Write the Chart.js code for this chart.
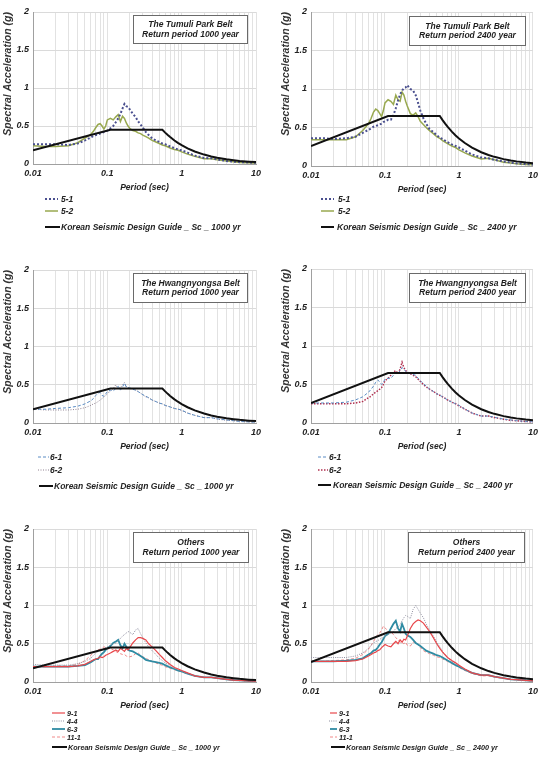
<!DOCTYPE html>
<html><head><meta charset="utf-8">
<script src="https://cdn.jsdelivr.net/npm/chart.js@4.4.0/dist/chart.umd.min.js"></script>
<style>
body{margin:0;background:#fff;width:542px;height:767px;position:relative;overflow:hidden;}
.panel{position:absolute;}
.leg{position:absolute;display:flex;align-items:center;font-family:"Liberation Sans",Arial,sans-serif;font-style:italic;font-weight:bold;color:#222;white-space:nowrap;height:12px;}
.leg svg{flex:none;}
</style></head><body>
<script>
// ---------- DATA ----------
const periods = [0.01,0.015,0.02,0.03,0.04, 0.05,0.06,0.065,0.07,0.075, 0.08,0.085,0.09,0.095,0.1, 0.11,0.12,0.13,0.14,0.15, 0.16,0.17,0.18,0.19,0.2, 0.22,0.24,0.26,0.28,0.3, 0.33,0.36,0.4,0.45,0.5, 0.55,0.6,0.7,0.8,0.9, 1,1.2,1.5,2,2.5, 3,4,5,6,8, 10];

const designPeriods = [0.01,0.11,0.55,0.6,0.65,0.7,0.8,0.9,1,1.2,1.5,2,2.5,3,4,5,6,8,10];
const design1000 = [0.18,0.45,0.45,0.413,0.381,0.354,0.309,0.275,0.248,0.206,0.165,0.124,0.099,0.083,0.062,0.050,0.041,0.031,0.025];
const design2400 = [0.26,0.65,0.65,0.596,0.55,0.511,0.447,0.397,0.358,0.298,0.238,0.179,0.143,0.119,0.089,0.072,0.060,0.045,0.036];

const tumuli51_1000 = [0.26,0.26,0.26,0.25,0.27, 0.31,0.35,0.37,0.38,0.39, 0.40,0.41,0.42,0.43,0.44, 0.47,0.50,0.55,0.60,0.66, 0.73,0.79,0.76,0.75,0.72, 0.66,0.62,0.56,0.52,0.48, 0.42,0.38,0.34,0.31,0.29, 0.27,0.26,0.23,0.21,0.19, 0.18,0.15,0.11,0.08,0.075, 0.06,0.04,0.03,0.025,0.02, 0.015];
const tumuli52_1000 = [0.24,0.23,0.23,0.24,0.28, 0.34,0.39,0.43,0.48,0.52, 0.53,0.50,0.46,0.50,0.58, 0.60,0.58,0.62,0.65,0.56, 0.63,0.60,0.54,0.50,0.47, 0.44,0.43,0.41,0.40,0.38, 0.36,0.34,0.31,0.29,0.27, 0.25,0.24,0.21,0.19,0.18, 0.16,0.13,0.10,0.07,0.07, 0.055,0.04,0.03,0.02,0.015, 0.01];
const tumuli51_2400 = [0.36,0.36,0.35,0.36,0.38, 0.43,0.47,0.49,0.51,0.52, 0.53,0.54,0.55,0.57,0.58, 0.60,0.60,0.66,0.75,0.85, 0.93,0.98,1.01,1.02,1.05, 1.00,0.98,0.92,0.82,0.72, 0.62,0.55,0.48,0.44,0.40, 0.37,0.35,0.31,0.28,0.26, 0.24,0.20,0.15,0.11,0.10, 0.08,0.06,0.045,0.035,0.025, 0.02];
const tumuli52_2400 = [0.34,0.34,0.34,0.34,0.38, 0.46,0.55,0.62,0.70,0.74, 0.72,0.68,0.64,0.72,0.82, 0.86,0.84,0.80,0.92,0.86, 0.84,0.96,0.92,0.84,0.78, 0.68,0.66,0.69,0.64,0.58, 0.54,0.50,0.46,0.42,0.38, 0.36,0.33,0.29,0.26,0.24, 0.21,0.17,0.13,0.09,0.10, 0.08,0.05,0.04,0.03,0.02, 0.015];

const hwang61_1000 = [0.18,0.18,0.19,0.20,0.22, 0.25,0.29,0.32,0.36,0.39, 0.40,0.36,0.35,0.38,0.41, 0.43,0.42,0.45,0.48,0.43, 0.47,0.52,0.47,0.46,0.46, 0.44,0.43,0.41,0.39,0.37, 0.35,0.33,0.30,0.28,0.26, 0.25,0.23,0.21,0.19,0.18, 0.17,0.13,0.10,0.07,0.07, 0.055,0.04,0.03,0.02,0.015, 0.01];
const hwang62_1000 = [0.18,0.17,0.17,0.17,0.18, 0.20,0.23,0.25,0.26,0.28, 0.30,0.32,0.34,0.36,0.38, 0.42,0.45,0.50,0.44,0.46, 0.50,0.53,0.48,0.46,0.45, 0.44,0.43,0.41,0.39,0.37, 0.34,0.33,0.30,0.28,0.26, 0.25,0.23,0.21,0.19,0.18, 0.16,0.13,0.10,0.07,0.07, 0.05,0.035,0.03,0.02,0.015, 0.01];
const hwang61_2400 = [0.26,0.26,0.26,0.27,0.30, 0.34,0.40,0.44,0.48,0.53, 0.56,0.53,0.50,0.53,0.57, 0.58,0.58,0.62,0.66,0.64, 0.68,0.72,0.70,0.67,0.66, 0.64,0.63,0.62,0.58,0.55, 0.51,0.48,0.44,0.41,0.38, 0.36,0.34,0.30,0.27,0.25, 0.23,0.18,0.13,0.09,0.09, 0.075,0.05,0.04,0.03,0.02, 0.015];
const hwang62_2400 = [0.25,0.25,0.25,0.25,0.26, 0.28,0.33,0.35,0.38,0.40, 0.42,0.44,0.46,0.50,0.55, 0.58,0.62,0.66,0.68,0.64, 0.70,0.79,0.72,0.68,0.66, 0.64,0.62,0.60,0.57,0.54, 0.50,0.47,0.44,0.41,0.38, 0.36,0.34,0.30,0.27,0.25, 0.22,0.18,0.13,0.09,0.09, 0.07,0.05,0.035,0.03,0.02, 0.015];

const others91_1000 = [0.20,0.20,0.20,0.20,0.21, 0.23,0.27,0.29,0.30,0.31, 0.33,0.32,0.33,0.35,0.36, 0.38,0.40,0.42,0.40,0.44, 0.42,0.40,0.44,0.42,0.45, 0.51,0.55,0.58,0.58,0.57, 0.55,0.50,0.46,0.41,0.36, 0.32,0.28,0.23,0.19,0.17, 0.15,0.12,0.08,0.06,0.06, 0.05,0.035,0.025,0.02,0.015, 0.01];
const others44_1000 = [0.23,0.22,0.22,0.22,0.24, 0.27,0.31,0.35,0.38,0.40, 0.42,0.43,0.44,0.45,0.46, 0.48,0.50,0.51,0.54,0.57, 0.60,0.62,0.64,0.66,0.65, 0.62,0.68,0.70,0.63,0.58, 0.51,0.46,0.41,0.36,0.31, 0.28,0.25,0.21,0.18,0.16, 0.14,0.11,0.08,0.06,0.06, 0.05,0.035,0.025,0.02,0.015, 0.01];
const others63_1000 = [0.20,0.20,0.20,0.20,0.21, 0.22,0.26,0.28,0.30,0.30, 0.34,0.37,0.39,0.42,0.44, 0.47,0.51,0.53,0.55,0.48, 0.44,0.50,0.46,0.42,0.41, 0.40,0.38,0.36,0.34,0.32, 0.29,0.28,0.27,0.26,0.25, 0.24,0.22,0.19,0.17,0.15, 0.14,0.11,0.08,0.06,0.06, 0.05,0.035,0.025,0.02,0.015, 0.01];
const others111_1000 = [0.20,0.20,0.21,0.21,0.23, 0.28,0.35,0.38,0.40,0.42, 0.43,0.44,0.46,0.45,0.43, 0.44,0.42,0.40,0.38,0.37, 0.36,0.36,0.34,0.33,0.33, 0.34,0.37,0.38,0.35,0.33, 0.31,0.29,0.27,0.25,0.23, 0.22,0.20,0.18,0.16,0.15, 0.13,0.11,0.08,0.06,0.06, 0.05,0.035,0.025,0.02,0.015, 0.01];

const others91_2400 = [0.27,0.27,0.27,0.27,0.28, 0.30,0.34,0.36,0.38,0.39, 0.41,0.42,0.45,0.47,0.49, 0.47,0.46,0.50,0.53,0.50, 0.55,0.52,0.56,0.55,0.60, 0.70,0.76,0.79,0.81,0.80, 0.77,0.72,0.66,0.58,0.50, 0.44,0.39,0.32,0.28,0.25, 0.22,0.17,0.12,0.09,0.09, 0.07,0.05,0.035,0.03,0.02, 0.015];
const others44_2400 = [0.32,0.32,0.32,0.32,0.34, 0.38,0.44,0.48,0.51,0.53, 0.54,0.56,0.57,0.58,0.60, 0.62,0.64,0.66,0.70,0.72, 0.75,0.80,0.84,0.87,0.86, 0.83,0.95,1.00,0.95,0.90, 0.84,0.76,0.68,0.60,0.52, 0.46,0.40,0.32,0.27,0.24, 0.21,0.16,0.12,0.09,0.09, 0.07,0.05,0.035,0.03,0.02, 0.015];
const others63_2400 = [0.27,0.27,0.27,0.28,0.29, 0.31,0.36,0.38,0.41,0.42, 0.45,0.49,0.52,0.56,0.60, 0.63,0.70,0.76,0.80,0.70, 0.66,0.76,0.70,0.63,0.61, 0.59,0.55,0.51,0.49,0.47, 0.44,0.41,0.39,0.37,0.35, 0.34,0.32,0.28,0.25,0.22, 0.20,0.16,0.12,0.09,0.09, 0.07,0.05,0.035,0.03,0.02, 0.015];
const others111_2400 = [0.27,0.27,0.28,0.29,0.31, 0.36,0.43,0.48,0.53,0.58, 0.62,0.64,0.68,0.73,0.71, 0.66,0.66,0.62,0.58,0.55, 0.52,0.52,0.50,0.52,0.48, 0.47,0.52,0.53,0.49,0.45, 0.41,0.39,0.37,0.35,0.33, 0.32,0.30,0.27,0.24,0.22, 0.19,0.15,0.11,0.08,0.08, 0.065,0.045,0.035,0.025,0.02, 0.015];

const xTickValues = [0.01,0.1,1,10];
const xTickLabels = ['0.01','0.1','1','10'];
const xDecades = [0.01,0.1,1];
const xMinorMultipliers = [1,2,3,4,5,6,7,8,9];
const yTickValues = [0,0.5,1,1.5,2];
const yTickLabels = ['0','0.5','1','1.5','2'];

// ---------- RENDERING ----------
const FONT = '"Liberation Sans", Arial, sans-serif';
const xGridValues = [];
xDecades.forEach(d => xMinorMultipliers.forEach(m => xGridValues.push(m*d)));
xGridValues.push(10);

function pts(xs, ys){ return xs.map((x,i)=>({x:x, y:ys[i]})); }
function xLabel(v){
  for (let i=0;i<xTickValues.length;i++) if (Math.abs(v-xTickValues[i])/xTickValues[i] < 1e-6) return xTickLabels[i];
  return '';
}
function yLabel(v){
  for (let i=0;i<yTickValues.length;i++) if (Math.abs(v-yTickValues[i]) < 1e-9) return yTickLabels[i];
  return '';
}

const STY = {
  s51:{color:'#4a4f8f', width:2, dash:[2,2]},
  s52:{color:'#98a84f', width:1.5, dash:[]},
  s61:{color:'#5b8cc4', width:1, dash:[3,2]},
  s62a:{color:'#8f8090', width:1, dash:[1,1.5]},
  s62b:{color:'#b03050', width:1.5, dash:[1.5,1.5]},
  s91:{color:'#e8474b', width:1.2, dash:[]},
  s44:{color:'#8f8fa0', width:1, dash:[1,1.2]},
  s63:{color:'#2f8ba3', width:1.8, dash:[]},
  s111:{color:'#f08a8a', width:1, dash:[3,2]},
  des:{color:'#111111', width:2, dash:[]}
};

function makePanel(c){
  const W = 271, H = c.cb + 30;
  const div = document.createElement('div');
  div.className = 'panel';
  div.style.left = c.left+'px'; div.style.top = c.top+'px';
  div.style.width = W+'px'; div.style.height = H+'px';
  const cv = document.createElement('canvas');
  cv.width = W; cv.height = H; cv.style.width = W+'px'; cv.style.height = H+'px';
  div.appendChild(cv);
  document.body.appendChild(div);

  const datasets = [{
    label: c.designLabel, data: pts(designPeriods, c.design),
    borderColor: STY.des.color, borderWidth: STY.des.width, borderDash: [], order: 0
  }];
  c.series.forEach((s,i) => datasets.push({
    label: s.label, data: pts(periods, s.values),
    borderColor: s.sty.color, borderWidth: s.sty.width, borderDash: s.sty.dash, order: i+1
  }));

  const box = c.box;
  const boxPlugin = {
    id: 'titleBox',
    afterDraw(chart){
      const ctx = chart.ctx, a = chart.chartArea;
      const x = Math.round(a.right - box.r - box.w), y = Math.round(a.top + box.t);
      ctx.save();
      ctx.fillStyle = '#fff'; ctx.fillRect(x, y, box.w, box.h);
      ctx.strokeStyle = '#6a6a6a'; ctx.lineWidth = 1;
      ctx.strokeRect(x+0.5, y+0.5, box.w-1, box.h-1);
      ctx.font = 'italic bold 8.5px ' + FONT;
      ctx.fillStyle = '#1e1e1e'; ctx.textAlign = 'center'; ctx.textBaseline = 'middle';
      const cx = x + box.w/2, cy = y + box.h/2;
      c.title.forEach((t,i) => ctx.fillText(t, cx, cy + (i - (c.title.length-1)/2) * 9.5));
      ctx.restore();
    }
  };

  new Chart(cv, {
    type: 'line',
    data: { datasets },
    options: {
      responsive: false, animation: false, events: [],
      layout: { padding: { left: 0, top: c.ct, right: W - c.cr, bottom: 0 } },
      elements: { point: { radius: 0 }, line: { tension: 0, borderCapStyle: 'butt' } },
      plugins: { legend: { display: false }, tooltip: { enabled: false } },
      scales: {
        x: {
          type: 'logarithmic', min: 0.01, max: 10,
          afterFit: s => { s.height = H - c.cb; },
          afterBuildTicks: s => { s.ticks = xGridValues.map(v => ({ value: v })); },
          ticks: { autoSkip: false, maxRotation: 0, minRotation: 0, padding: 4, color: '#222',
                   font: { family: FONT, size: 9, style: 'italic', weight: 'bold' },
                   callback: v => xLabel(v) },
          grid: { color: '#e2e2e2', lineWidth: 1, drawTicks: false },
          border: { color: '#a0a0a0', width: 1 },
          title: { display: true, text: 'Period (sec)', color: '#222',
                   font: { family: FONT, size: 8.5, style: 'italic', weight: 'bold' },
                   padding: { top: 0, bottom: 1 } }
        },
        y: {
          type: 'linear', min: 0, max: 2,
          afterFit: s => { s.width = c.cl; },
          ticks: { stepSize: 0.5, padding: 4, color: '#222',
                   font: { family: FONT, size: 9, style: 'italic', weight: 'bold' },
                   callback: v => yLabel(v) },
          grid: { color: '#dadada', lineWidth: 1, drawTicks: false },
          border: { color: '#a0a0a0', width: 1 },
          title: { display: true, text: 'Spectral Acceleration (g)', color: '#333', align: 'end',
                   font: { family: FONT, size: 10.5, style: 'italic', weight: 'bold' },
                   padding: { top: c.yTitlePad, bottom: 0 } }
        }
      }
    },
    plugins: [boxPlugin]
  });

  // legend (HTML)
  const items = c.series.map(s => ({ label: s.label, sty: s.sty })).concat([{ label: c.designLabel, sty: STY.des }]);
  items.forEach((it, i) => {
    const L = c.legend[i];
    const d = document.createElement('div');
    d.className = 'leg';
    d.style.left = (c.left + L.sx) + 'px';
    d.style.top = (c.top + L.y - 6) + 'px';
    d.style.fontSize = c.legendFont + 'px';
    const svgNS = 'http://www.w3.org/2000/svg';
    const svg = document.createElementNS(svgNS, 'svg');
    svg.setAttribute('width', L.sw); svg.setAttribute('height', 6);
    svg.style.marginRight = (L.tx - L.sx - L.sw) + 'px';
    const ln = document.createElementNS(svgNS, 'line');
    ln.setAttribute('x1', 0); ln.setAttribute('y1', 3); ln.setAttribute('x2', L.sw); ln.setAttribute('y2', 3);
    ln.setAttribute('stroke', it.sty.color); ln.setAttribute('stroke-width', it.sty.width);
    if (it.sty.dash.length) ln.setAttribute('stroke-dasharray', it.sty.dash.join(' '));
    svg.appendChild(ln);
    const sp = document.createElement('span');
    sp.textContent = it.label;
    d.appendChild(svg); d.appendChild(sp);
    document.body.appendChild(d);
  });
}

makePanel({
  left: 0, top: 0, cl: 33, cr: 256, ct: 12, cb: 164, yTitlePad: 1.7,
  box: { r: 8, t: 3, w: 115, h: 29 },
  title: ['The Tumuli Park Belt', 'Return period 1000 year'],
  series: [{ label: '5-1', values: tumuli51_1000, sty: STY.s51 }, { label: '5-2', values: tumuli52_1000, sty: STY.s52 }],
  design: design1000, designLabel: 'Korean Seismic Design Guide _ Sc _ 1000 yr',
  legendFont: 8.5,
  legend: [{ y: 199, sx: 45, sw: 13, tx: 61 }, { y: 211, sx: 45, sw: 13, tx: 61 }, { y: 227, sx: 45, sw: 15, tx: 61 }]
});
makePanel({
  left: 271, top: 0, cl: 40, cr: 264, ct: 12, cb: 166, yTitlePad: 8.7,
  box: { r: 7, t: 4, w: 117, h: 30 },
  title: ['The Tumuli Park Belt', 'Return period 2400 year'],
  series: [{ label: '5-1', values: tumuli51_2400, sty: STY.s51 }, { label: '5-2', values: tumuli52_2400, sty: STY.s52 }],
  design: design2400, designLabel: 'Korean Seismic Design Guide _ Sc _ 2400 yr',
  legendFont: 8.5,
  legend: [{ y: 199, sx: 50, sw: 13, tx: 67 }, { y: 211, sx: 50, sw: 13, tx: 67 }, { y: 227, sx: 50, sw: 13, tx: 66 }]
});
makePanel({
  left: 0, top: 250, cl: 33, cr: 256, ct: 20, cb: 173, yTitlePad: 1.7,
  box: { r: 8, t: 3, w: 115, h: 30 },
  title: ['The Hwangnyongsa Belt', 'Return period 1000 year'],
  series: [{ label: '6-1', values: hwang61_1000, sty: STY.s61 }, { label: '6-2', values: hwang62_1000, sty: STY.s62a }],
  design: design1000, designLabel: 'Korean Seismic Design Guide _ Sc _ 1000 yr',
  legendFont: 8.5,
  legend: [{ y: 207, sx: 38, sw: 11, tx: 50 }, { y: 220, sx: 38, sw: 11, tx: 50 }, { y: 236, sx: 39, sw: 14, tx: 54 }]
});
makePanel({
  left: 271, top: 250, cl: 40, cr: 264, ct: 19, cb: 173, yTitlePad: 8.7,
  box: { r: 7, t: 4, w: 117, h: 30 },
  title: ['The Hwangnyongsa Belt', 'Return period 2400 year'],
  series: [{ label: '6-1', values: hwang61_2400, sty: STY.s61 }, { label: '6-2', values: hwang62_2400, sty: STY.s62b }],
  design: design2400, designLabel: 'Korean Seismic Design Guide _ Sc _ 2400 yr',
  legendFont: 8.5,
  legend: [{ y: 207, sx: 47, sw: 10, tx: 58 }, { y: 220, sx: 47, sw: 10, tx: 58 }, { y: 235, sx: 47, sw: 13, tx: 62 }]
});
makePanel({
  left: 0, top: 500, cl: 33, cr: 256, ct: 29, cb: 182, yTitlePad: 1.7,
  box: { r: 7, t: 3, w: 116, h: 31 },
  title: ['Others', 'Return period 1000 year'],
  series: [{ label: '9-1', values: others91_1000, sty: STY.s91 }, { label: '4-4', values: others44_1000, sty: STY.s44 },
           { label: '6-3', values: others63_1000, sty: STY.s63 }, { label: '11-1', values: others111_1000, sty: STY.s111 }],
  design: design1000, designLabel: 'Korean Seismic Design Guide _ Sc _ 1000 yr',
  legendFont: 7.2,
  legend: [{ y: 213, sx: 52, sw: 13, tx: 67 }, { y: 221, sx: 52, sw: 13, tx: 67 }, { y: 229, sx: 52, sw: 13, tx: 67 },
           { y: 237, sx: 52, sw: 13, tx: 67 }, { y: 247, sx: 52, sw: 15, tx: 68 }]
});
makePanel({
  left: 271, top: 500, cl: 40, cr: 264, ct: 29, cb: 182, yTitlePad: 8.7,
  box: { r: 8, t: 3, w: 117, h: 31 },
  title: ['Others', 'Return period 2400 year'],
  series: [{ label: '9-1', values: others91_2400, sty: STY.s91 }, { label: '4-4', values: others44_2400, sty: STY.s44 },
           { label: '6-3', values: others63_2400, sty: STY.s63 }, { label: '11-1', values: others111_2400, sty: STY.s111 }],
  design: design2400, designLabel: 'Korean Seismic Design Guide _ Sc _ 2400 yr',
  legendFont: 7.2,
  legend: [{ y: 213, sx: 59, sw: 7, tx: 68 }, { y: 221, sx: 58, sw: 8, tx: 68 }, { y: 229, sx: 59, sw: 7, tx: 68 },
           { y: 237, sx: 59, sw: 7, tx: 68 }, { y: 247, sx: 60, sw: 14, tx: 75 }]
});
</script>
</body></html>
